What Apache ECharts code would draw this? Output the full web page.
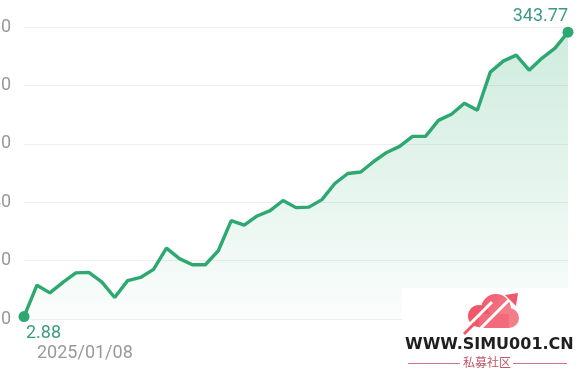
<!DOCTYPE html>
<html><head><meta charset="utf-8">
<script src="https://cdn.jsdelivr.net/npm/echarts@6/dist/echarts.min.js"></script>
<style>html,body{margin:0;padding:0;background:#fff}#c{width:580px;height:375px}</style>
</head><body><div id="c"></div>
<script>
const categories = [
  '2025/01/08','2025/01/15','2025/01/22','2025/01/29','2025/02/05','2025/02/12','2025/02/19','2025/02/26',
  '2025/03/05','2025/03/12','2025/03/19','2025/03/26','2025/04/02','2025/04/09','2025/04/16','2025/04/23',
  '2025/04/30','2025/05/07','2025/05/14','2025/05/21','2025/05/28','2025/06/04','2025/06/11','2025/06/18',
  '2025/06/25','2025/07/02','2025/07/09','2025/07/16','2025/07/23','2025/07/30','2025/08/06','2025/08/13',
  '2025/08/20','2025/08/27','2025/09/03','2025/09/10','2025/09/17','2025/09/24','2025/10/01','2025/10/08',
  '2025/10/15','2025/10/22','2025/10/29'
];
const values = [
  2.88, 40.5, 31.3, 43.9, 55.3, 55.9, 44.5, 25.8, 46.0, 49.8, 59.5, 85.0,
  72.4, 65.0, 65.0, 81.8, 118.0, 112.5, 123.5, 129.9, 142.0, 133.5, 134.1, 143.1,
  162.4, 174.4, 176.2, 188.8, 199.6, 206.9, 218.9, 218.9, 238.1, 245.4, 258.6, 250.2,
  295.9, 309.1, 316.3, 298.3, 312.7, 324.7, 343.77
];
const yMin = 0, yMax = 350, yInterval = 70;

const lineColor = '#2ca870';
const labelColor = '#3d9c80';
const last = values.length - 1;

const seriesData = values.map((v, i) => {
  if (i === 0) {
    return { value: v, symbol: 'circle', symbolSize: 11,
      label: { show: true, position: 'bottom', align: 'left', distance: 2, offset: [2, 0],
        formatter: String(v), color: labelColor, fontSize: 18, fontFamily: 'Roboto' } };
  }
  if (i === last) {
    return { value: v, symbol: 'circle', symbolSize: 11,
      label: { show: true, position: 'top', align: 'right', distance: 1, offset: [0, 0],
        formatter: String(v), color: labelColor, fontSize: 18, fontFamily: 'Roboto' } };
  }
  return { value: v, symbol: 'none' };
});

const chart = echarts.init(document.getElementById('c'), null, { renderer: 'canvas' });
chart.setOption({
  animation: false,
  backgroundColor: '#fff',
  grid: { left: 24, right: 12, top: 27, bottom: 56, containLabel: false, outerBoundsMode: 'none' },
  xAxis: {
    type: 'category',
    data: categories,
    boundaryGap: false,
    axisLine: { show: false },
    axisTick: { show: false },
    splitLine: { show: false },
    axisLabel: {
      interval: (i) => i === 0,
      showMaxLabel: false,
      align: 'left',
      padding: [0, 0, 0, 13],
      margin: 25,
      color: '#999',
      fontSize: 18,
      fontFamily: 'Roboto'
    }
  },
  yAxis: {
    type: 'value',
    min: yMin, max: yMax, interval: yInterval,
    axisLine: { show: false },
    axisTick: { show: false },
    splitLine: { lineStyle: { color: '#eeeeee', width: 1 } },
    axisLabel: { margin: 13, color: '#999', fontSize: 18, fontFamily: 'Roboto' }
  },
  series: [{
    type: 'line',
    data: seriesData,
    showSymbol: true,
    showAllSymbol: true,
    symbol: 'circle',
    clip: false,
    silent: true,
    lineStyle: { color: lineColor, width: 3.4 },
    itemStyle: { color: lineColor },
    areaStyle: {
      color: new echarts.graphic.LinearGradient(0, 0, 0, 1, [
        { offset: 0, color: 'rgba(44,168,112,0.33)' },
        { offset: 1, color: 'rgba(44,168,112,0.03)' }
      ])
    }
  }],
  graphic: [
    { type: 'rect', left: 402, top: 288, z: 100,
      shape: { width: 178, height: 87 }, style: { fill: 'rgba(255,255,255,0.94)' } },
    { type: 'circle', z: 101, shape: { cx: 496, cy: 309, r: 15 },
      style: { fill: new echarts.graphic.LinearGradient(0, 0, 1, 1, [
        { offset: 0, color: '#f0576b' }, { offset: 1, color: '#f68a96' }]) } },
    { type: 'circle', z: 101, shape: { cx: 479, cy: 316, r: 11 },
      style: { fill: '#f0576b' } },
    { type: 'circle', z: 101, shape: { cx: 509, cy: 318, r: 10 },
      style: { fill: '#f47d8a' } },
    { type: 'rect', z: 101, shape: { x: 479, y: 314, width: 30, height: 14 },
      style: { fill: '#f36b7b' } },
    { type: 'line', z: 102, shape: { x1: 462, y1: 332, x2: 492, y2: 302 },
      style: { stroke: '#fff', lineWidth: 3 } },
    { type: 'line', z: 102, shape: { x1: 475, y1: 334, x2: 511, y2: 298 },
      style: { stroke: '#fff', lineWidth: 3 } },
    { type: 'line', z: 102, shape: { x1: 464, y1: 334, x2: 475, y2: 323 },
      style: { stroke: '#f0576b', lineWidth: 3 } },
    { type: 'polygon', z: 102, shape: { points: [[518, 293], [505, 295], [516, 306]] },
      style: { fill: '#f0576b' } },
    { type: 'text', z: 102, left: 405, top: 337,
      style: { text: 'WWW.SIMU001.CN', fill: '#1f1f1f', font: 'bold 16px "DejaVu Sans"' } },
    { type: 'text', z: 102, left: 463, top: 356,
      style: { text: '私募社区', fill: '#c0566a', font: '12px "Noto Sans CJK SC"' } },
    { type: 'line', z: 102, shape: { x1: 408, y1: 363.5, x2: 460, y2: 363.5 },
      style: { stroke: '#d27585', lineWidth: 1 } },
    { type: 'line', z: 102, shape: { x1: 513, y1: 363.5, x2: 567, y2: 363.5 },
      style: { stroke: '#d27585', lineWidth: 1 } }
  ]
});
</script>
</body></html>
